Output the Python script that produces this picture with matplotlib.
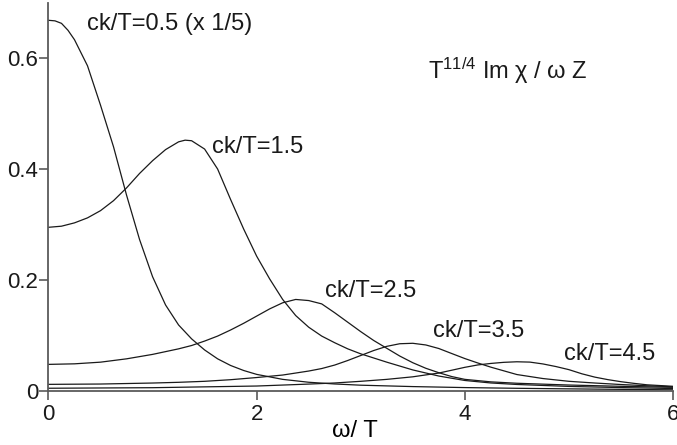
import matplotlib
matplotlib.use('Agg')
import matplotlib.pyplot as plt

# ---------------- Data ----------------
# ck/T = 0.5, scaled by 1/5
w05 = [0, 0.0625, 0.125, 0.1875, 0.25, 0.375, 0.5, 0.625, 0.75, 0.875, 1.0, 1.125, 1.25,
       1.375, 1.5, 1.625, 1.75, 1.875, 2.0, 2.25, 2.5, 2.75, 3.0, 3.5, 4.0, 4.5, 5.0, 5.5, 6.0]
ck05 = [0.668, 0.667, 0.6625, 0.650, 0.633, 0.586, 0.515, 0.440, 0.353, 0.273, 0.206, 0.155,
        0.119, 0.094, 0.074, 0.058, 0.046, 0.037, 0.030, 0.021, 0.0158, 0.0127, 0.0105,
        0.0080, 0.0062, 0.0049, 0.0039, 0.0030, 0.0022]

w15 = [0, 0.125, 0.25, 0.375, 0.5, 0.625, 0.75, 0.875, 1.0, 1.125, 1.25, 1.3125, 1.375, 1.5,
       1.625, 1.75, 1.875, 2.0, 2.125, 2.25, 2.375, 2.5, 2.625, 2.75, 2.875, 3.0, 3.25,
       3.5, 3.75, 4.0, 4.25, 4.5, 5.0, 5.5, 6.0]
ck15 = [0.295, 0.297, 0.303, 0.312, 0.325, 0.343, 0.366, 0.392, 0.415, 0.435, 0.449, 0.452,
        0.451, 0.436, 0.400, 0.345, 0.292, 0.243, 0.202, 0.165, 0.136, 0.115, 0.099, 0.087,
        0.076, 0.067, 0.052, 0.038, 0.027, 0.019, 0.0145, 0.0118, 0.0083, 0.0062, 0.0045]

w25 = [0, 0.25, 0.5, 0.75, 1.0, 1.25, 1.375, 1.5, 1.625, 1.75, 1.875, 2.0, 2.125, 2.25,
       2.375, 2.5, 2.625, 2.75, 2.875, 3.0, 3.125, 3.25, 3.375, 3.5, 3.625, 3.75, 3.875,
       4.0, 4.25, 4.5, 5.0, 5.5, 6.0]
ck25 = [0.048, 0.049, 0.052, 0.058, 0.066, 0.076, 0.082, 0.090, 0.099, 0.110, 0.122, 0.135,
        0.148, 0.159, 0.165, 0.163, 0.157, 0.141, 0.124, 0.107, 0.091, 0.077, 0.063, 0.051,
        0.041, 0.033, 0.026, 0.021, 0.0165, 0.014, 0.0108, 0.0085, 0.0067]

w35 = [0, 0.5, 1.0, 1.25, 1.5, 1.75, 2.0, 2.25, 2.5, 2.625, 2.75, 2.875, 3.0, 3.125, 3.25,
       3.375, 3.5, 3.625, 3.75, 3.875, 4.0, 4.125, 4.25, 4.5, 4.75, 5.0, 5.25, 5.5, 5.75, 6.0]
ck35 = [0.012, 0.0126, 0.0144, 0.0157, 0.0175, 0.0204, 0.0243, 0.0288, 0.036, 0.0405, 0.0468,
        0.055, 0.064, 0.073, 0.0805, 0.0852, 0.086, 0.083, 0.0766, 0.0675, 0.0585, 0.0505,
        0.043, 0.0297, 0.0225, 0.0175, 0.0144, 0.0117, 0.0095, 0.0076]

w45 = [0, 1.0, 2.0, 2.5, 2.75, 3.0, 3.25, 3.5, 3.75, 3.875, 4.0, 4.125, 4.25, 4.375, 4.5,
       4.625, 4.75, 4.875, 5.0, 5.125, 5.25, 5.375, 5.5, 5.625, 5.75, 6.0]
ck45 = [0.005, 0.006, 0.009, 0.0125, 0.0145, 0.0175, 0.021, 0.0256, 0.0324, 0.0375, 0.0427,
        0.047, 0.0497, 0.0517, 0.0527, 0.0521, 0.0488, 0.0441, 0.0385, 0.031, 0.025, 0.0205,
        0.0168, 0.0138, 0.0112, 0.0085]

curves = [(w05, ck05), (w15, ck15), (w25, ck25), (w35, ck35), (w45, ck45)]
labels = ["ck/T=0.5 (x 1/5)", "ck/T=1.5", "ck/T=2.5", "ck/T=3.5", "ck/T=4.5"]
label_pos = [(0.37, 0.650), (1.571, 0.429), (2.656, 0.170), (3.69, 0.0967), (4.952, 0.0559)]

xticks = [0, 2, 4, 6]
xtick_labels = ["0", "2", "4", "6"]
yticks = [0, 0.2, 0.4, 0.6]
ytick_labels = ["0", "0.2", "0.4", "0.6"]

# ---------------- Style ----------------
plt.rcParams['font.family'] = ['Liberation Sans', 'DejaVu Sans']
plt.rcParams['mathtext.fontset'] = 'custom'
plt.rcParams['mathtext.rm'] = 'Liberation Sans'
plt.rcParams['mathtext.it'] = 'Liberation Sans:italic'

ink = '#1a1a1a'
axis_col = '#5a5a5a'

fig = plt.figure(figsize=(6.77, 4.45), dpi=100)
ax = fig.add_axes([0.0716, 0.1213, 0.9225, 0.873])

for w, y in curves:
    ax.plot(w, y, color=ink, linewidth=0.9)

for (lx, ly), txt in zip(label_pos, labels):
    ax.text(lx, ly, txt, fontsize=17, ha='left', va='baseline', color=ink)

ax.text(3.646, 0.562, r"T$^{\mathrm{11/4}}$ Im χ / ω Z", fontsize=17,
        ha='left', va='baseline', color=ink)

ax.set_xlim(0, 6)
ax.set_ylim(0, 0.70)
ax.set_xticks(xticks)
ax.set_xticklabels(xtick_labels)
ax.set_yticks(yticks)
ax.set_yticklabels(ytick_labels)
ax.set_xlabel("ω/ T", fontsize=17)
ax.xaxis.set_label_coords(0.49, -0.075)

for side in ['top', 'right']:
    ax.spines[side].set_visible(False)
for side in ['left', 'bottom']:
    ax.spines[side].set_color(axis_col)
    ax.spines[side].set_linewidth(1.3)
ax.tick_params(axis='both', direction='out', length=6.5, width=1.2, color=axis_col,
               labelsize=16, labelcolor=ink)
ax.tick_params(axis='y', pad=1)
ax.tick_params(axis='x', pad=3)

fig.savefig('out.png', dpi=100)
